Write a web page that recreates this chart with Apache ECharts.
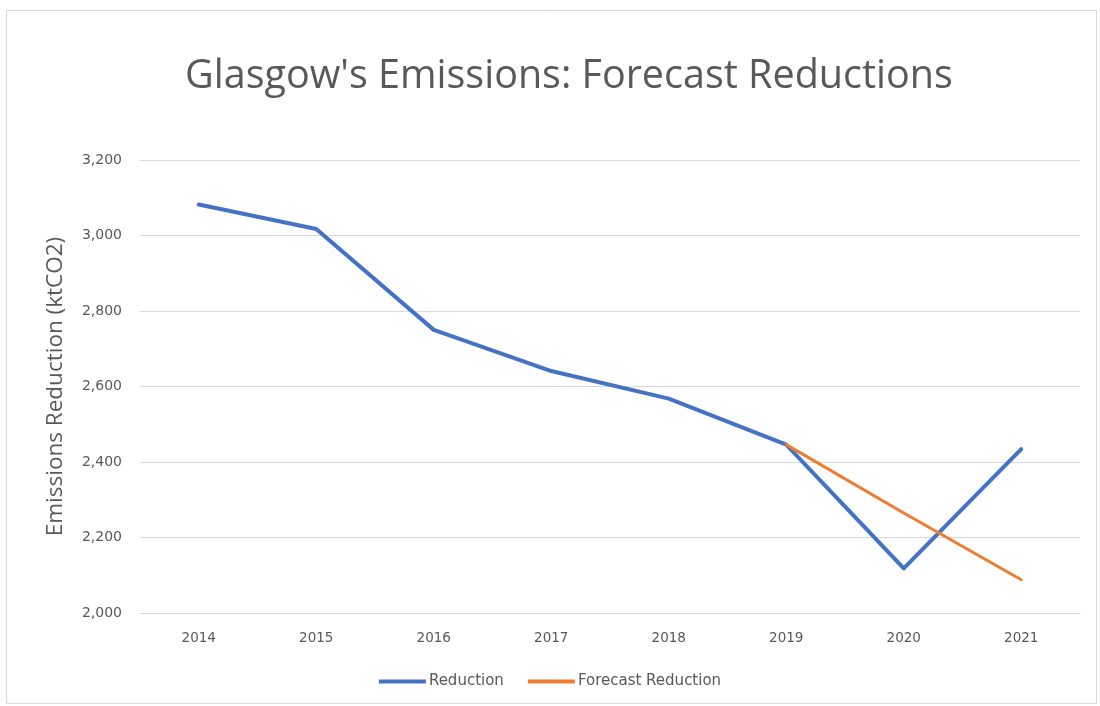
<!DOCTYPE html>
<html>
<head>
<meta charset="utf-8">
<script src="https://cdn.jsdelivr.net/npm/echarts@6/dist/echarts.min.js"></script>
<style>
  html, body { margin: 0; padding: 0; background: #ffffff; }
  #chart { width: 1100px; height: 706px; }
</style>
</head>
<body>
<div id="chart"></div>
<script>
// Glasgow emissions, yearly reduction and forecast (ktCO2)
const years = ['2014', '2015', '2016', '2017', '2018', '2019', '2020', '2021'];
const reduction = [3082, 3017, 2750, 2641, 2568, 2446, 2118, 2434];
const forecastReduction = [null, null, null, null, null, 2446, 2265, 2088];
const yTicks = { min: 2000, max: 3200, interval: 200 };

const textGrey = '#595959';
const titleFont = '"Open Sans", "Liberation Sans", sans-serif';
const labelFont = '"DejaVu Sans", "Open Sans", sans-serif';

const chart = echarts.init(document.getElementById('chart'), null, { renderer: 'canvas' });

chart.setOption({
  backgroundColor: '#ffffff',
  animation: false,
  graphic: [{
    type: 'rect',
    shape: { x: 6.5, y: 10.5, width: 1090, height: 693 },
    style: { fill: 'none', stroke: '#d9d9d9', lineWidth: 1 },
    silent: true
  }],
  title: {
    text: "Glasgow's Emissions: Forecast Reductions",
    left: 180,
    top: 52,
    textStyle: { color: textGrey, fontSize: 39.5, fontWeight: 'normal', fontFamily: titleFont }
  },
  legend: {
    bottom: 12,
    left: 'center',
    itemWidth: 47,
    itemHeight: 4,
    itemGap: 24,
    icon: 'rect',
    textStyle: { color: textGrey, fontSize: 15, fontFamily: labelFont, padding: [0, 0, 0, -2] },
    data: ['Reduction', 'Forecast Reduction']
  },
  grid: { left: 140, right: 20, top: 160, bottom: 93 },
  xAxis: {
    type: 'category',
    data: years,
    boundaryGap: true,
    axisLine: { lineStyle: { color: '#d9d9d9', width: 1 } },
    axisTick: { show: false },
    axisLabel: { color: textGrey, fontSize: 13.5, fontFamily: labelFont, margin: 18 }
  },
  yAxis: {
    type: 'value',
    min: yTicks.min,
    max: yTicks.max,
    interval: yTicks.interval,
    name: 'Emissions Reduction (ktCO2)',
    nameLocation: 'middle',
    nameGap: 73,
    nameTextStyle: { color: textGrey, fontSize: 22.5, fontFamily: titleFont },
    axisLine: { show: false },
    axisTick: { show: false },
    splitLine: { lineStyle: { color: '#d9d9d9', width: 1 } },
    axisLabel: {
      color: textGrey, fontSize: 14, fontFamily: labelFont, margin: 18,
      formatter: v => v.toLocaleString('en-US')
    }
  },
  series: [
    {
      name: 'Reduction',
      type: 'line',
      data: reduction,
      symbol: 'none',
      lineStyle: { color: '#4472C4', width: 4, join: 'round', cap: 'round' },
      itemStyle: { color: '#4472C4' },
      z: 2
    },
    {
      name: 'Forecast Reduction',
      type: 'line',
      data: forecastReduction,
      symbol: 'none',
      connectNulls: false,
      lineStyle: { color: '#ED7D31', width: 3, join: 'round', cap: 'round' },
      itemStyle: { color: '#ED7D31' },
      z: 3
    }
  ]
});
</script>
</body>
</html>
